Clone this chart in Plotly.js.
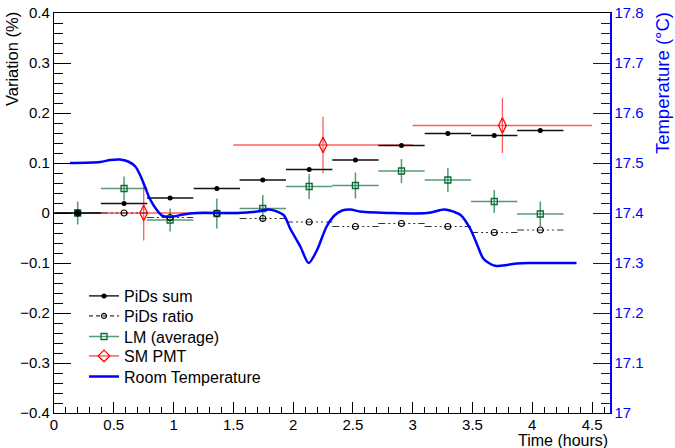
<!DOCTYPE html>
<html>
<head>
<meta charset="utf-8">
<script src="https://cdn.plot.ly/plotly-3.0.1.min.js"></script>
<style>html,body{margin:0;padding:0;background:#fff;}#chart{width:675px;height:448px;}</style>
</head>
<body>
<div id="chart"></div>
<script>
// ---- data ----
const pidsTime = [0.198, 0.586, 0.971, 1.362, 1.746, 2.134, 2.521, 2.906, 3.294, 3.682, 4.067];
const pidsHalfWidth = 0.194;
const pidsSum = [0, 0.019, 0.030, 0.049, 0.066, 0.087, 0.106, 0.135, 0.159, 0.155, 0.165];
const pidsRatio = [0, 0, -0.009, -0.001, -0.011, -0.018, -0.027, -0.021, -0.027, -0.039, -0.034];
const lmAvg = [0, 0.049, -0.014, -0.001, 0.009, 0.053, 0.055, 0.084, 0.066, 0.023, -0.002];
const lmErr = [0.023, 0.024, 0.023, 0.030, 0.027, 0.025, 0.026, 0.024, 0.024, 0.023, 0.025];
const smTime = [0.75, 2.25, 3.75];
const smHalfWidth = 0.75;
const smPmt = [0, 0.136, 0.175];
const smErr = [0.055, 0.057, 0.055];
const tempTime = [0.134, 0.385, 0.47, 0.55, 0.62, 0.68, 0.72, 0.76, 0.80, 0.86, 0.91, 1.0, 1.08, 1.19, 1.53, 1.70, 1.80, 1.92, 1.975, 2.06, 2.13, 2.20, 2.28, 2.35, 2.41, 2.48, 2.56, 3.12, 3.26, 3.31, 3.40, 3.48, 3.54, 3.59, 3.65, 3.70, 3.79, 3.87, 3.98, 4.37];
const tempC = [17.500, 17.502, 17.506, 17.507, 17.503, 17.493, 17.476, 17.453, 17.429, 17.406, 17.394, 17.393, 17.397, 17.400, 17.400, 17.403, 17.407, 17.396, 17.369, 17.333, 17.300, 17.326, 17.373, 17.396, 17.405, 17.407, 17.403, 17.400, 17.407, 17.405, 17.396, 17.369, 17.336, 17.309, 17.298, 17.294, 17.296, 17.299, 17.300, 17.300];
const legendNames = ['PiDs sum', 'PiDs ratio', 'LM (average)', 'SM PMT', 'Room Temperature'];

// ---- build dashed bar segments for the ratio series ----
const ratioSegX = [], ratioSegY = [];
pidsTime.forEach((t, i) => { ratioSegX.push(t - pidsHalfWidth, t + pidsHalfWidth, null); ratioSegY.push(pidsRatio[i], pidsRatio[i], null); });

const FONT = 'Liberation Sans, Arial, Helvetica, sans-serif';
const GREEN_BAR = 'rgba(30,120,70,0.75)';
const GREEN_MK = '#0b6b35';
const RED_BAR = 'rgba(255,40,40,0.75)';
const DASH_RATIO = '7px,3px,2px,3px,2px,3px';
const nulls = [null];

const traces = [
  // SM PMT
  {x: smTime, y: smPmt, type: 'scatter', mode: 'markers', showlegend: false,
   error_x: {type: 'constant', value: smHalfWidth, color: RED_BAR, thickness: 1.3, width: 0},
   error_y: {type: 'data', array: smErr, color: RED_BAR, thickness: 1.3, width: 0},
   marker: {symbol: 'diamond-tall-open', size: 11, color: '#ff0000', line: {width: 1.3, color: '#ff0000'}}},
  // LM average
  {x: pidsTime, y: lmAvg, type: 'scatter', mode: 'markers', showlegend: false,
   error_x: {type: 'constant', value: pidsHalfWidth, color: GREEN_BAR, thickness: 1.5, width: 0},
   error_y: {type: 'data', array: lmErr, color: GREEN_BAR, thickness: 1.5, width: 0},
   marker: {symbol: 'square-open', size: 6, color: GREEN_MK, line: {width: 1.3, color: GREEN_MK}}},
  // PiDs ratio bars
  {x: ratioSegX, y: ratioSegY, type: 'scatter', mode: 'lines', showlegend: false,
   line: {color: '#333333', width: 1.2, dash: DASH_RATIO}, hoverinfo: 'skip'},
  {x: pidsTime, y: pidsRatio, type: 'scatter', mode: 'markers', showlegend: false,
   marker: {symbol: 'circle-open', size: 6, color: '#000', line: {width: 1.2, color: '#000'}}},
  // PiDs sum
  {x: pidsTime, y: pidsSum, type: 'scatter', mode: 'markers', showlegend: false,
   error_x: {type: 'constant', value: pidsHalfWidth, color: '#111', thickness: 1.5, width: 0},
   marker: {symbol: 'circle', size: 5, color: '#000'}},
  // Room temperature
  {x: tempTime, y: tempC, yaxis: 'y2', type: 'scatter', mode: 'lines', showlegend: false,
   line: {color: '#0000ff', width: 2.5, shape: 'spline', smoothing: 0.8}},
  // legend entries (one legend box per entry for exact row spacing)
  {x: nulls, y: nulls, name: legendNames[0], legend: 'legend', type: 'scatter', mode: 'lines+markers',
   line: {color: '#000', width: 1.3}, marker: {symbol: 'circle', size: 5, color: '#000'}},
  {x: nulls, y: nulls, name: legendNames[1], legend: 'legend2', type: 'scatter', mode: 'lines+markers',
   line: {color: '#333', width: 1.3, dash: '4px,3px'}, marker: {symbol: 'circle-open', size: 5, color: '#000', line: {width: 1.2, color: '#000'}}},
  {x: nulls, y: nulls, name: legendNames[2], legend: 'legend3', type: 'scatter', mode: 'lines+markers',
   line: {color: GREEN_BAR, width: 1.5}, marker: {symbol: 'square-open', size: 6, color: GREEN_MK, line: {width: 1.3, color: GREEN_MK}}},
  {x: nulls, y: nulls, name: legendNames[3], legend: 'legend4', type: 'scatter', mode: 'lines+markers',
   line: {color: RED_BAR, width: 1.5}, marker: {symbol: 'diamond-open', size: 9, color: '#ff0000', line: {width: 1.3, color: '#ff0000'}}},
  {x: nulls, y: nulls, name: legendNames[4], legend: 'legend5', type: 'scatter', mode: 'lines',
   line: {color: '#0000ff', width: 2.5}}
];

function legendBox(yPaper) {
  return {x: 0.054, y: yPaper, xanchor: 'left', yanchor: 'middle', bgcolor: 'rgba(0,0,0,0)', borderwidth: 0,
          font: {family: FONT, size: 16, color: '#000'}, itemwidth: 30};
}

const layout = {
  width: 675, height: 448,
  margin: {l: 54, r: 65, t: 13, b: 35, pad: 0},
  paper_bgcolor: '#fff', plot_bgcolor: '#fff',
  font: {family: FONT, size: 15, color: '#000'},
  showlegend: true,
  legend: legendBox(0.2925),
  legend2: legendBox(0.2425),
  legend3: legendBox(0.191),
  legend4: legendBox(0.1425),
  legend5: legendBox(0.091),
  xaxis: {range: [0, 4.65], dtick: 0.5, tick0: 0, ticks: 'inside', ticklen: 11, tickwidth: 1, tickcolor: '#000',
          showline: true, linecolor: '#000', linewidth: 1.2, mirror: true, showgrid: false, zeroline: false,
          ticklabelstandoff: -2,
          minor: {dtick: 0.1, ticks: 'inside', ticklen: 6, tickcolor: '#000', tickwidth: 1},
          tickfont: {family: FONT, size: 15, color: '#000'}},
  yaxis: {range: [-0.4, 0.4], dtick: 0.1, tick0: 0, ticks: 'inside', ticklen: 17, tickwidth: 1, tickcolor: '#000',
          showline: true, linecolor: '#000', linewidth: 1.2, showgrid: false, zeroline: false,
          minor: {dtick: 0.02, ticks: 'inside', ticklen: 9, tickcolor: '#000', tickwidth: 1},
          tickfont: {family: FONT, size: 15, color: '#000'}},
  yaxis2: {range: [17, 17.8], dtick: 0.1, tick0: 17, overlaying: 'y', side: 'right', ticks: 'inside', ticklen: 17,
           tickwidth: 1, tickcolor: '#0000ff', showline: true, linecolor: '#0000ff', linewidth: 1.5,
           showgrid: false, zeroline: false,
           minor: {dtick: 0.02, ticks: 'inside', ticklen: 9, tickcolor: '#0000ff', tickwidth: 1},
           tickfont: {family: FONT, size: 15, color: '#0000ff'}},
  annotations: [
    {text: 'Variation (%)', xref: 'paper', yref: 'paper', x: -0.0755, y: 1.0075, xanchor: 'center', yanchor: 'top',
     textangle: -90, showarrow: false, font: {family: FONT, size: 16.5, color: '#000'}},
    {text: 'Temperature (°C)', xref: 'paper', yref: 'paper', x: 1.0955, y: 1.0075, xanchor: 'center', yanchor: 'top',
     textangle: -90, showarrow: false, font: {family: FONT, size: 18.5, color: '#0000ff'}},
    {text: 'Time (hours)', xref: 'paper', yref: 'paper', x: 1, y: -0.068, xanchor: 'right', yanchor: 'middle',
     showarrow: false, font: {family: FONT, size: 16, color: '#000'}}
  ]
};

Plotly.newPlot('chart', traces, layout, {staticPlot: true, displayModeBar: false});
</script>
</body>
</html>
